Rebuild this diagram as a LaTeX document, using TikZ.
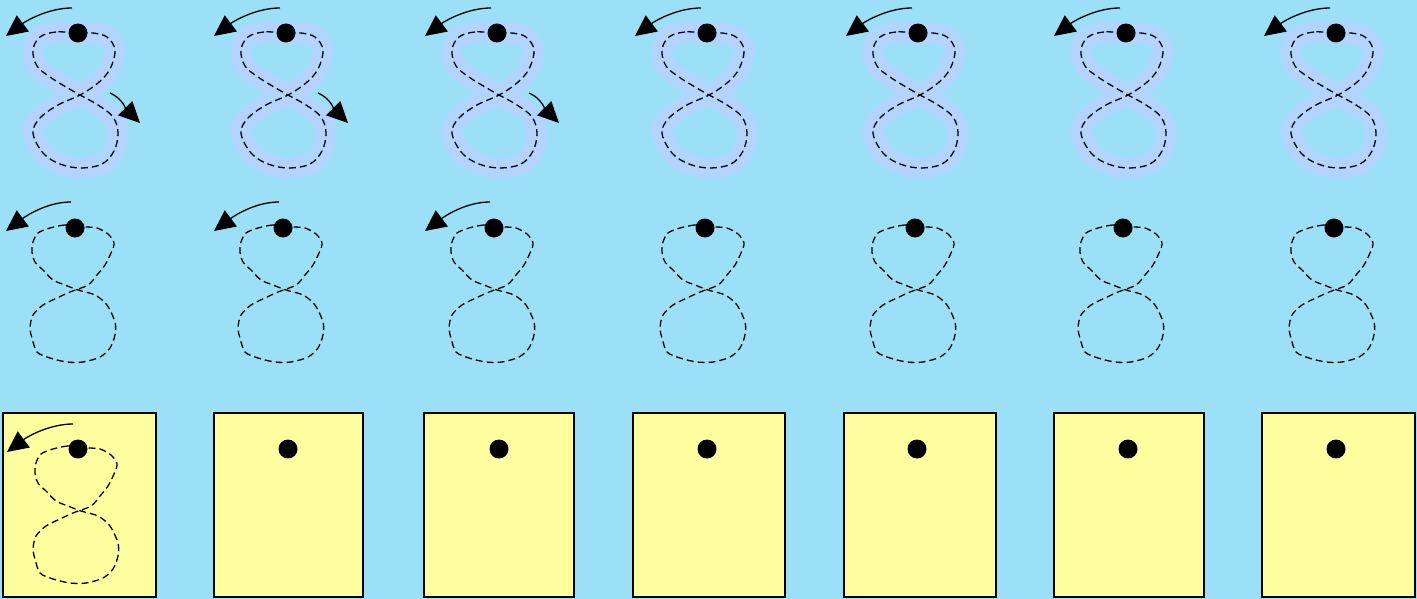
\documentclass[tikz,border=0pt]{standalone}
\definecolor{skyback}{RGB}{155,224,247}
\definecolor{guideband}{RGB}{178,212,255}
\definecolor{slateyellow}{RGB}{255,255,160}
\usetikzlibrary{arrows.meta}

% smooth guide eight and hand-traced eight, both relative to the start dot
\newcommand{\guideeight}{plot[smooth cycle, tension=0.6] coordinates {
  (0,0) (-22,-1) (-38,4) (-45,17) (-41,33) (-28,44) (-12,54) (2,62)
  (20,72) (35,84) (40,100) (36,118) (24,131) (3,135) (-18,131) (-35,120)
  (-45,100) (-38,85) (-20,72) (2,62) (20,50) (32,36) (37,17) (29,4) (15,0)}}
\newcommand{\traceeight}{plot[smooth cycle, tension=0.5] coordinates {
  (0,-1) (-10,-3) (-25,0) (-37,5) (-42,14) (-43,24) (-40,34) (-32,42)
  (-22,52) (-10,57) (3,62) (20,67) (32,77) (40,94) (40,107) (35,120)
  (25,129) (8,134) (-8,134) (-25,130) (-38,124) (-43,110) (-45,100)
  (-42,87) (-32,77) (-18,70) (-5,64) (13,57) (22,47) (30,37) (36,25)
  (39,15) (33,6) (22,0) (10,-1)}}

\begin{document}
\begin{tikzpicture}[x=1pt, y=-1pt,
  dotnode/.style={circle, fill=black, inner sep=0pt, minimum size=19pt},
  trace/.style={dash pattern=on 7pt off 4pt, line width=1.3pt},
  band/.style={draw=guideband, line width=21pt, line join=round},
  hint/.style={-{Triangle[length=21pt, width=20pt]}, line width=1.3pt},
  slate/.style={draw=black, fill=slateyellow, line width=2pt},
]
\fill[skyback] (0,0) rectangle (1417,599);
\useasboundingbox (0,0) rectangle (1417,599);

\foreach \i/\xa/\xb/\xc/\bl/\br in {1/78/75/78/3/156, 2/286/283/288/214/363,
    3/497/494/499/424/574, 4/707/705/707/633/785, 5/918/915/917/844/996,
    6/1126/1123/1128/1054/1204, 7/1336/1334/1336/1262/1415} {
  % Row 1: guide band with dashed eight
  \begin{scope}[shift={(\xa,33)}]
    \draw[band] \guideeight;
    \draw[trace] \guideeight;
    \node[dotnode] (d1-\i) at (0,0) {};
    \coordinate (s1-\i) at (-6,-25);
    \coordinate (e1-\i) at (-72,3);
    \draw[hint] (s1-\i) .. controls (-30,-25) and (-52,-12) .. (e1-\i);
    \ifnum\i<4
      \coordinate (m1-\i) at (32,60);
      \coordinate (n1-\i) at (62,90);
      \draw[hint] (m1-\i) .. controls (44,65) and (48,76) .. (n1-\i);
    \fi
  \end{scope}

  % Row 2: dashed eight only
  \begin{scope}[shift={(\xb,228)}]
    \draw[trace] \traceeight;
    \node[dotnode] (d2-\i) at (0,0) {};
    \ifnum\i<4
      \coordinate (s2-\i) at (-4,-26);
      \coordinate (e2-\i) at (-69,3);
      \draw[hint] (s2-\i) .. controls (-28,-26) and (-49,-12) .. (e2-\i);
    \fi
  \end{scope}

  % Row 3: writing slates
  \draw[slate] (\bl,413) rectangle (\br,597);
  \begin{scope}[shift={(\xc,449)}]
    \ifnum\i=1
      \draw[trace] \traceeight;
      \coordinate (s3-\i) at (-5,-25);
      \coordinate (e3-\i) at (-71,3);
      \draw[hint] (s3-\i) .. controls (-29,-25) and (-51,-12) .. (e3-\i);
    \fi
    \node[dotnode] (d3-\i) at (0,0) {};
  \end{scope}
}
\end{tikzpicture}
\end{document}
